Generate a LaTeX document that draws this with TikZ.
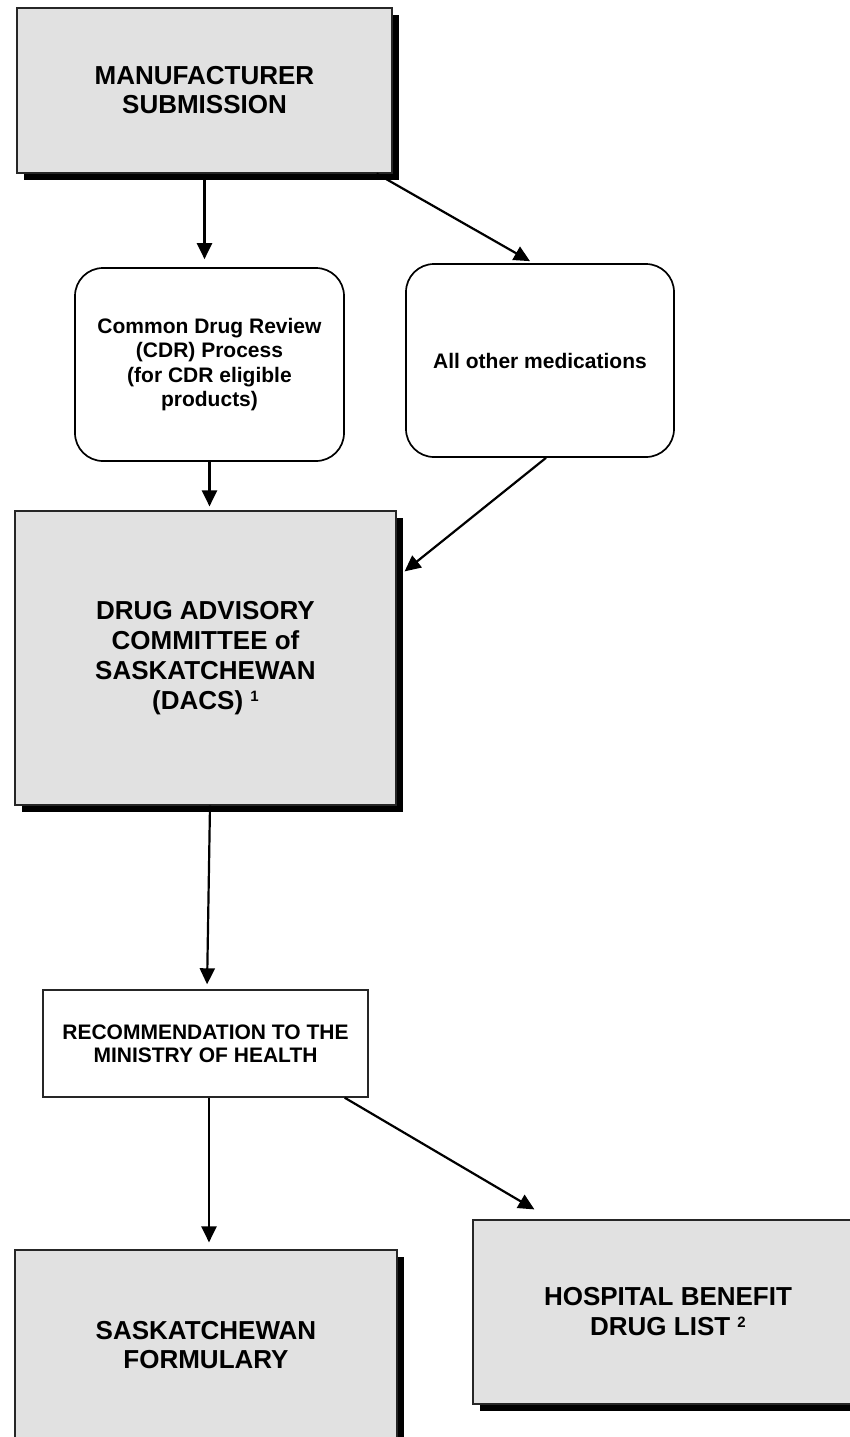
\documentclass[tikz,border=0pt]{standalone}
\usepackage{fontspec}
\setmainfont{Liberation Sans}
\usetikzlibrary{shadows,arrows.meta}
\definecolor{boxgray}{RGB}{225,225,225}
\newcommand{\supnum}[1]{\raisebox{4pt}{\fontsize{7.5}{7.5}\selectfont #1}}
\begin{document}
\begin{tikzpicture}[x=0.5pt,y=-0.5pt,
  bigbox/.style={draw=black!85, line width=0.6pt, fill=boxgray,
    drop shadow={shadow xshift=3.4pt, shadow yshift=-3.4pt, fill=black, opacity=1},
    align=center, inner sep=0pt, font=\fontsize{13}{15}\selectfont\bfseries},
  roundbox/.style={draw=black, line width=0.85pt, rounded corners=14pt, fill=white,
    align=center, inner sep=0pt, font=\fontsize{10.5}{12.25}\selectfont\bfseries},
  recbox/.style={draw=black!85, line width=0.7pt, fill=white,
    align=center, inner sep=0pt, font=\fontsize{10.5}{11.5}\selectfont\bfseries},
  flow/.style={line width=1.1pt, -{Triangle[length=8pt,width=7.5pt]}}
]
\useasboundingbox (0,0) rectangle (850,1437);
\clip (0,0) rectangle (850,1437);

\node[bigbox, minimum width=187.5pt, minimum height=82.5pt,
      font=\fontsize{13}{14.5}\selectfont\bfseries] (man) at (204.5,90.5)
      {MANUFACTURER\\SUBMISSION};
\node[roundbox, minimum width=134.5pt, minimum height=96.5pt] (cdr) at (209.5,364.5)
      {Common Drug Review\\(CDR) Process\\(for CDR eligible\\products)};
\node[roundbox, minimum width=134pt, minimum height=96.5pt] (oth) at (540,360.5)
      {All other medications};
\node[bigbox, minimum width=190.5pt, minimum height=147pt] (dacs) at (205.5,658)
      {DRUG ADVISORY\\COMMITTEE of\\SASKATCHEWAN\\(DACS) \supnum{1}};
\node[recbox, minimum width=162.5pt, minimum height=53.5pt] (rec) at (205.5,1043.5)
      {RECOMMENDATION TO THE\\MINISTRY OF HEALTH};
\node[bigbox, minimum width=191pt, minimum height=95pt,
      font=\fontsize{13}{14.5}\selectfont\bfseries] (form) at (206,1345)
      {SASKATCHEWAN\\FORMULARY};
\node[bigbox, minimum width=195pt, minimum height=92pt] (hosp) at (668,1312)
      {HOSPITAL BENEFIT\\DRUG LIST \supnum{2}};

\draw[flow, shorten >=4pt] (man.south) -- (man.south |- cdr.north);
\draw[flow] ([xshift=-8pt]man.south east) -- ([xshift=-5pt,yshift=1pt]oth.north);
\draw[flow, shorten >=2pt] (cdr.south) -- (cdr.south |- dacs.north);
\draw[flow] ([xshift=3pt]oth.south) -- ([xshift=4pt,yshift=-30.5pt]dacs.north east);
\draw[flow, shorten >=2.5pt] ([xshift=2.25pt]dacs.south) -- ([xshift=0.75pt]rec.north);
\draw[flow, shorten >=3.5pt] ([xshift=1.75pt]rec.south) -- ([xshift=1.5pt]form.north);
\draw[flow] ([xshift=-12pt]rec.south east) -- ([xshift=31pt,yshift=5pt]hosp.north west);
\end{tikzpicture}
\end{document}
